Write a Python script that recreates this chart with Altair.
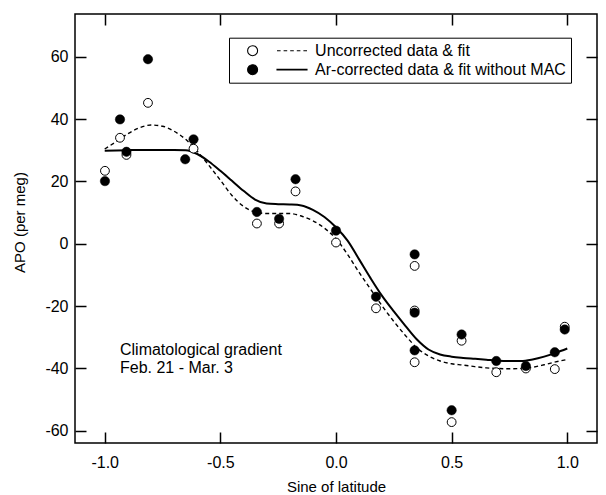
import altair as alt
import pandas as pd

FONT = "Liberation Sans"
S_UNC = "Uncorrected data & fit"
S_AR = "Ar-corrected data & fit without MAC"

# --- data ---
unc_x = [-0.999, -0.934, -0.906, -0.813, -0.616, -0.342, -0.246, -0.175, 0.0,
         0.340, 0.173, 0.340, 0.340, 0.543, 0.500, 0.693, 0.821, 0.946, 0.989]
unc_y = [23.4, 34.0, 28.5, 45.2, 30.5, 6.5, 6.5, 16.8, 0.4,
         -7.1, -20.7, -21.4, -38.0, -31.1, -57.2, -41.2, -40.0, -40.2, -26.6]

ar_x = [-0.999, -0.934, -0.906, -0.813, -0.652, -0.616, -0.342, -0.246, -0.175, 0.0,
        0.340, 0.173, 0.340, 0.340, 0.543, 0.500, 0.693, 0.821, 0.946, 0.989]
ar_y = [20.1, 39.9, 29.5, 59.2, 27.1, 33.5, 10.2, 8.0, 20.7, 4.2,
        -3.4, -17.0, -22.1, -34.2, -29.1, -53.4, -37.6, -39.2, -34.8, -27.5]

fit_x = [-1.0, -0.95, -0.9, -0.85, -0.8, -0.75, -0.7, -0.65, -0.6, -0.55, -0.5,
         -0.45, -0.4, -0.35, -0.3, -0.25, -0.2, -0.15, -0.1, -0.05, 0.0,
         0.05, 0.1, 0.15, 0.2, 0.25, 0.3, 0.35, 0.4, 0.45, 0.5,
         0.55, 0.6, 0.65, 0.7, 0.75, 0.8, 0.85, 0.9, 0.95, 1.0]
unc_fit = [30.4, 32.8, 35.3, 37.2, 38.1, 37.7, 36.1, 33.5, 29.7, 25.2, 20.4,
           15.5, 12.0, 10.2, 9.7, 9.7, 9.7, 8.9, 7.4, 5.0, 1.6,
           -3.4, -9.2, -14.6, -20.0, -24.9, -29.4, -33.4, -36.0, -37.6, -38.5,
           -38.9, -39.4, -39.8, -40.0, -40.1, -40.0, -39.6, -38.8, -37.9, -37.1]
ar_fit = [29.8, 29.9, 30.0, 30.1, 30.1, 30.1, 30.1, 30.0, 28.8, 26.4, 23.4,
          20.2, 17.0, 14.2, 12.9, 12.7, 12.6, 12.3, 10.9, 8.6, 5.3,
          1.0, -5.0, -11.1, -16.8, -21.7, -26.3, -30.7, -33.9, -35.5, -36.2,
          -36.6, -36.9, -37.2, -37.5, -37.6, -37.6, -37.1, -36.2, -35.0, -33.6]

x_ticks = [-1.0, -0.5, 0.0, 0.5, 1.0]
y_ticks = [-60, -40, -20, 0, 20, 40, 60]

note_lines = ["Climatological gradient", "Feb. 21 - Mar. 3"]
note_x = [-0.934, -0.934]
note_y = [-34.1, -39.9]

# --- tables ---
pts = pd.DataFrame(
    {"sin": unc_x + ar_x, "apo": unc_y + ar_y,
     "series": [S_UNC] * len(unc_x) + [S_AR] * len(ar_x)}
)
fit = pd.DataFrame({"sin": fit_x, "unc": unc_fit, "ar": ar_fit})
notes = pd.DataFrame({"sin": note_x, "apo": note_y, "txt": note_lines})

xscale = alt.Scale(domain=[-1.1285, 1.1285], nice=False, zero=False)
yscale = alt.Scale(domain=[-63.9, 73.7], nice=False, zero=False)

TICK = dict(tickSize=11, tickWidth=1.5, tickColor="black", offset=-11,
            domain=False, grid=False)

x_bottom = alt.Axis(
    orient="bottom", values=x_ticks, **TICK,
    labelFont=FONT, labelFontSize=16, labelColor="black", labelPadding=11.5,
    labelExpr="(datum.value < 0 ? '-' : '') + format(abs(datum.value), '.1f')",
    title="Sine of latitude", titleFont=FONT, titleFontSize=15,
    titleFontWeight="normal", titleColor="black",
    titleBaseline="alphabetic", titleY=59,
)
y_left = alt.Axis(
    orient="left", values=y_ticks, **TICK,
    labelFont=FONT, labelFontSize=16, labelColor="black", labelPadding=7,
    labelExpr="(datum.value < 0 ? '-' : '') + format(abs(datum.value), 'd')",
    title="APO (per meg)", titleFont=FONT, titleFontSize=15,
    titleFontWeight="normal", titleColor="black",
    titleBaseline="alphabetic", titleAlign="center", titleAngle=270,
    titleX=-62, titleY=208,
)
x_top = alt.Axis(orient="top", values=x_ticks, **TICK, labels=False, title=None)
y_right = alt.Axis(orient="right", values=y_ticks, **TICK, labels=False, title=None)

base_fit = alt.Chart(fit)

dashed = base_fit.mark_line(
    color="black", strokeWidth=1.4, strokeDash=[4, 3], interpolate="monotone"
).encode(
    x=alt.X("sin:Q", scale=xscale, axis=x_bottom),
    y=alt.Y("unc:Q", scale=yscale, axis=y_left),
)
solid = base_fit.mark_line(
    color="black", strokeWidth=2, interpolate="monotone"
).encode(
    x=alt.X("sin:Q", scale=xscale, axis=x_top),
    y=alt.Y("ar:Q", scale=yscale, axis=y_right),
)

open_pts = alt.Chart(pts).transform_filter(
    alt.datum.series == S_UNC
).mark_point(
    shape="circle", filled=True, fill="white", stroke="black",
    strokeWidth=1, size=78, opacity=1
).encode(
    x=alt.X("sin:Q", scale=xscale, axis=None),
    y=alt.Y("apo:Q", scale=yscale, axis=None),
)
filled_pts = alt.Chart(pts).transform_filter(
    alt.datum.series == S_AR
).mark_point(
    shape="circle", filled=True, fill="black", stroke="black",
    strokeWidth=0.5, size=88, opacity=1
).encode(
    x=alt.X("sin:Q", scale=xscale, axis=None),
    y=alt.Y("apo:Q", scale=yscale, axis=None),
)

# legend symbols: circle + line sample (unit = 5 px with symbolSize 100)
P_OPEN = ("M-1,0 A1,1,0,1,1,1,0 A1,1,0,1,1,-1,0 Z "
          "M4.88,0 L5.6,0 M6.2,0 L6.92,0 M7.52,0 L8.24,0 "
          "M8.84,0 L9.56,0 M10.16,0 L10.88,0")
P_FILL = ("M-1,0 A1,1,0,1,1,1,0 A1,1,0,1,1,-1,0 Z "
          "M4.88,-0.07 L10.88,-0.07 L10.88,0.07 L4.88,0.07 Z")

leg = alt.Legend(
    title=None, orient="none", legendX=154, legendY=23.7,
    strokeColor="black", fillColor="white", padding=5,
    symbolSize=100, symbolStrokeWidth=1.1, symbolStrokeColor="black",
    symbolOpacity=1, symbolOffset=10.6,
    labelFont=FONT, labelFontSize=16, labelColor="black",
    labelOffset=54.5, labelLimit=400, rowPadding=3,
)
dom = [S_UNC, S_AR]
legend_layer = alt.Chart(pts).mark_point(
    filled=True, strokeWidth=1.1, opacity=0
).encode(
    x=alt.X("sin:Q", scale=xscale, axis=None),
    y=alt.Y("apo:Q", scale=yscale, axis=None),
    fill=alt.Fill("series:N", scale=alt.Scale(domain=dom, range=["white", "black"]), legend=leg),
    stroke=alt.Stroke("series:N", scale=alt.Scale(domain=dom, range=["black", "black"]), legend=leg),
    shape=alt.Shape("series:N", scale=alt.Scale(domain=dom, range=[P_OPEN, P_FILL]), legend=leg),
)

note = alt.Chart(notes).mark_text(
    align="left", baseline="middle", font=FONT, fontSize=16, color="black"
).encode(
    x=alt.X("sin:Q", scale=xscale, axis=None),
    y=alt.Y("apo:Q", scale=yscale, axis=None),
    text="txt:N",
)

chart = alt.layer(
    dashed, solid, open_pts, filled_pts, legend_layer, note
).resolve_axis(
    x="independent", y="independent"
).properties(
    width=522, height=429,
    padding={"left": 67, "top": 6, "right": 1, "bottom": 52},
    autosize=alt.AutoSizeParams(type="none"),
    background="white",
).configure_view(
    stroke="black", strokeWidth=1.5
)

chart.save("out.html", embed_options={"renderer": "svg", "actions": False})
